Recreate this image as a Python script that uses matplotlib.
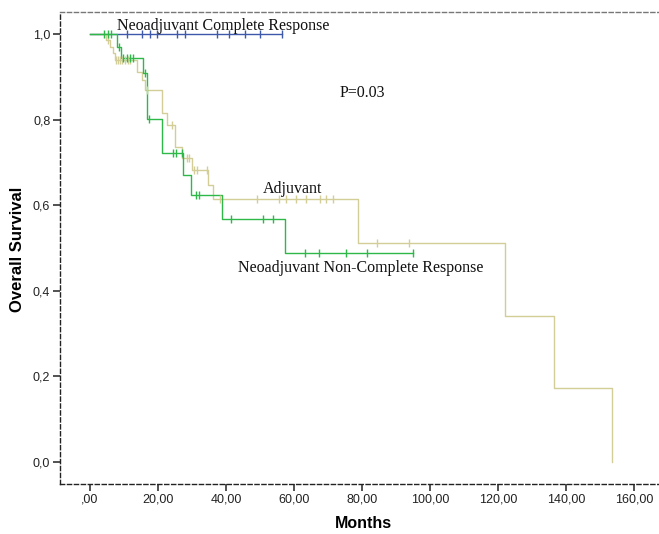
import matplotlib
matplotlib.use("Agg")
import matplotlib.pyplot as plt
import numpy as np

# ---- data ----
x_ticks = [0, 20, 40, 60, 80, 100, 120, 140, 160]
x_tick_labels = [",00", "20,00", "40,00", "60,00", "80,00", "100,00", "120,00", "140,00", "160,00"]
y_ticks = [0.0, 0.2, 0.4, 0.6, 0.8, 1.0]
y_tick_labels = ["0,0", "0,2", "0,4", "0,6", "0,8", "1,0"]

# Neoadjuvant Complete Response
cr_event_months = []
cr_event_surv = []
cr_censor_months = [10.8, 15.2, 17.6, 19.6, 25.5, 27.9, 37.3, 41.0, 45.6, 50.0, 56.4]
cr_end = 56.4

# Neoadjuvant Non-Complete Response
ncr_event_months = [7.8, 9.0, 15.6, 16.8, 21.2, 27.4, 29.6, 38.7, 57.4]
ncr_event_surv = [0.970, 0.944, 0.909, 0.801, 0.722, 0.671, 0.624, 0.568, 0.488]
ncr_censor_months = [4.1, 5.3, 6.2, 8.6, 9.7, 10.9, 11.8, 12.6, 16.2, 17.4, 24.4, 25.3,
                     27.1, 31.2, 32.1, 41.5, 50.9, 53.8, 63.2, 67.4, 75.3, 81.5, 95.0]
ncr_end = 95.0

# Adjuvant
adj_event_months = [4.7, 5.9, 6.8, 7.4, 13.8, 15.3, 16.2, 21.2, 22.6, 25.0, 27.1, 30.0,
                    34.7, 36.2, 78.8, 122.0, 136.5, 153.5]
adj_event_surv = [0.985, 0.970, 0.955, 0.940, 0.911, 0.893, 0.869, 0.815, 0.787, 0.737,
                  0.710, 0.682, 0.647, 0.614, 0.512, 0.341, 0.173, 0.0]
adj_censor_months = [5.3, 7.6, 8.2, 8.8, 9.4, 10.3, 11.2, 11.8, 16.8, 24.1, 28.5, 29.1,
                     30.6, 31.5, 34.4, 38.2, 49.1, 55.6, 57.6, 60.6, 63.5, 67.6, 69.4,
                     71.5, 84.4, 93.8]
adj_end = 153.5

BLUE = "#3E58AC"
GREEN = "#2EB848"
TAN = "#D3CE97"


def km_curve(ax, ev_t, ev_s, cens_t, end, color):
    t = np.array([0.0] + list(ev_t) + [end])
    s = np.array([1.0] + list(ev_s) + [ev_s[-1] if ev_s else 1.0])
    ax.step(t, s, where="post", color=color, lw=1.0, zorder=3)
    cs = []
    for c in cens_t:
        idx = np.searchsorted(t[:-1], c, side="right") - 1
        cs.append(s[idx])
    ax.plot(cens_t, cs, linestyle="none", marker="|", markersize=5.5,
            markeredgewidth=1.0, color=color, zorder=4)


fig = plt.figure(figsize=(6.59, 5.34), dpi=100)
ax = fig.add_axes([60 / 659, 50 / 534, 1 - 60 / 659, (484 - 12) / 534])

km_curve(ax, cr_event_months, cr_event_surv, cr_censor_months, cr_end, BLUE)
km_curve(ax, adj_event_months, adj_event_surv, adj_censor_months, adj_end, TAN)
km_curve(ax, ncr_event_months, ncr_event_surv, ncr_censor_months, ncr_end, GREEN)

ax.set_xlim(-8.82, 167.35)
ax.set_ylim(-0.0514, 1.0514)

ax.set_xticks(x_ticks)
ax.set_xticklabels(x_tick_labels, fontsize=9, family="Liberation Sans", color="#222222")
ax.set_yticks(y_ticks)
ax.set_yticklabels(y_tick_labels, fontsize=9, family="Liberation Sans", color="#222222")
ax.tick_params(axis="both", direction="out", length=5, width=1.2, color="#333333", pad=2)

ax.spines["right"].set_visible(False)
for side in ["left", "bottom"]:
    ax.spines[side].set_linestyle((0, (3, 2)))
    ax.spines[side].set_linewidth(1.0)
    ax.spines[side].set_color("#222222")
ax.spines["top"].set_linestyle((0, (3, 2)))
ax.spines["top"].set_linewidth(1.0)
ax.spines["top"].set_color("#777777")

ax.set_xlabel("Months", fontsize=11.5, fontweight="bold", family="Liberation Sans")
ax.xaxis.set_label_coords((363 - 60) / 599, -(524 - 484) / 472, transform=ax.transAxes)
ax.xaxis.label.set_va("center")
ax.set_ylabel("Overall Survival", fontsize=12, fontweight="bold", family="Liberation Sans")
ax.yaxis.set_label_coords(-(60 - 18) / 599, (484 - 249) / 472, transform=ax.transAxes)
ax.yaxis.label.set_va("center")

serif = "Liberation Serif"
ax.text(7.9, 1.019, "Neoadjuvant Complete Response", fontsize=11.5, family=serif,
        va="center", ha="left", color="#111111", zorder=5)
ax.text(73.5, 0.862, "P=0.03", fontsize=11.5, family=serif, va="center", ha="left", color="#111111")
ax.text(50.9, 0.638, "Adjuvant", fontsize=11.5, family=serif, va="center", ha="left", color="#111111")
ax.text(43.5, 0.453, "Neoadjuvant Non-Complete Response", fontsize=11.5, family=serif,
        va="center", ha="left", color="#111111")

fig.savefig("out.png", dpi=100)
